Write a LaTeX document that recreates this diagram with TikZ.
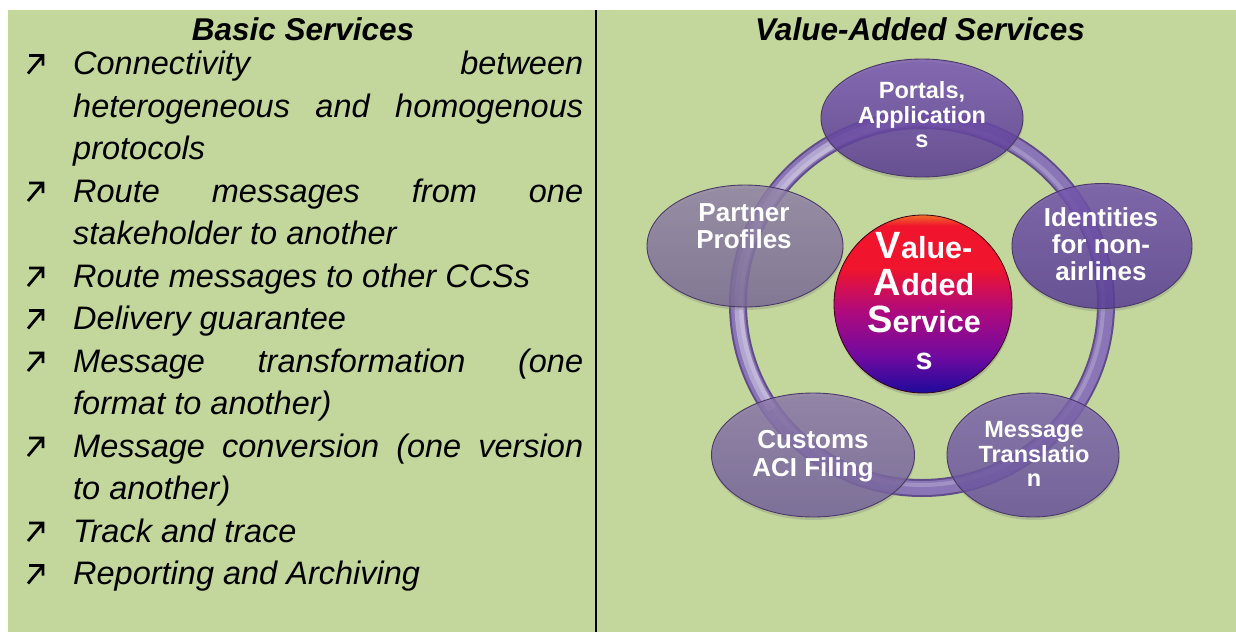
\documentclass[tikz,border=0pt]{standalone}
\usepackage{fontspec}
\setmainfont{Liberation Sans}
\usetikzlibrary{shapes.geometric,shadows}
\definecolor{bgreen}{RGB}{195,214,155}
\definecolor{edgec}{RGB}{74,56,104}
\definecolor{ringedge}{RGB}{96,76,136}
\definecolor{ringbody}{RGB}{138,118,182}
\definecolor{corange}{RGB}{240,110,40}
\definecolor{cred}{RGB}{240,20,45}
\definecolor{cmag}{RGB}{175,10,125}
\definecolor{cpurp}{RGB}{110,10,160}
\definecolor{cblue}{RGB}{30,10,155}
\definecolor{portT}{RGB}{121,84,184}
\definecolor{portB}{RGB}{86,54,146}
\definecolor{partT}{RGB}{145,129,168}
\definecolor{partB}{RGB}{120,104,149}
\definecolor{idenT}{RGB}{114,82,174}
\definecolor{idenB}{RGB}{86,57,149}
\definecolor{custT}{RGB}{139,119,171}
\definecolor{custB}{RGB}{114,94,155}
\definecolor{messT}{RGB}{126,102,174}
\definecolor{messB}{RGB}{101,77,155}
\pgfdeclareverticalshading{vacirc}{100bp}{color(0bp)=(cblue); color(25bp)=(cblue); color(35bp)=(cpurp); color(48bp)=(cmag); color(60bp)=(cred); color(72bp)=(cred); color(75bp)=(corange); color(100bp)=(corange)}
\begin{document}
\begin{tikzpicture}[x=1pt,y=-1pt,
  hdr/.style={font=\fontsize{31.5}{36}\selectfont\bfseries\itshape, inner sep=0pt, anchor=base},
  item/.style={font=\fontsize{32.5}{40}\selectfont\itshape, inner sep=0pt, anchor=base west},
  bul/.style={line width=2.8pt, line join=miter},
  bub/.style={ellipse, inner sep=0pt, draw=edgec, line width=0.9pt, fill opacity=0.8,
    drop shadow={opacity=0.3, shadow xshift=0.5pt, shadow yshift=-3pt}},
  btext/.style={text=white, align=center, inner sep=0pt},
]
\useasboundingbox (0,0) rectangle (1236,632);
\fill[white] (0,0) rectangle (1236,632);
\fill[bgreen] (8,10) rectangle (1236,632);
\coordinate (dtop) at (596,10);
\coordinate (dbot) at (596,632);
\draw[line width=2.4pt] (dtop) -- (dbot);

% headers
\node[hdr] (h1) at (303,40) {Basic Services};
\node[hdr] (h2) at (920,40) {Value-Added Services};

% list
\node[item] (l1) at (73,74.5) {\makebox[510pt][s]{Connectivity between}};
\node[item] (l2) at (73,117) {\makebox[510pt][s]{heterogeneous and homogenous}};
\node[item] (l3) at (73,159.5) {protocols};
\node[item] (l4) at (73,202) {\makebox[510pt][s]{Route messages from one}};
\node[item] (l5) at (73,244.5) {stakeholder to another};
\node[item] (l6) at (73,287) {Route messages to other CCSs};
\node[item] (l7) at (73,329.5) {Delivery guarantee};
\node[item] (l8) at (73,372) {\makebox[510pt][s]{Message transformation (one}};
\node[item] (l9) at (73,414.5) {format to another)};
\node[item] (l10) at (73,457) {\makebox[510pt][s]{Message conversion (one version}};
\node[item] (l11) at (73,499.5) {to another)};
\node[item] (l12) at (73,542) {Track and trace};
\node[item] (l13) at (73,584.5) {Reporting and Archiving};
\foreach \b in {74.5,202,287,329.5,372,457,542,584.5}
  \draw[bul] (29,\b-19) -- (43,\b-19) -- (43,\b-9) (43,\b-19) -- (28,\b-1);

% ring
\coordinate (rc) at (922,304);
\draw[line width=18pt, ringedge] (rc) circle[radius=184];
\draw[line width=14pt, ringbody] (rc) circle[radius=184];
\draw[line width=4pt, white, opacity=0.2] (rc) circle[radius=181];
\draw[line width=9pt, white, opacity=0.35] ([shift={(-215:183)}]rc) arc[start angle=-215, end angle=-95, radius=183];

% centre circle
\node[circle, minimum size=178pt, inner sep=0pt, shading=vacirc, draw=black!70!purple, line width=0.8pt,
  drop shadow={opacity=0.35, shadow xshift=0.5pt, shadow yshift=-3pt}] (vasc) at (923,304) {};
\node[btext, font=\fontsize{30.5}{37}\selectfont\bfseries] (vast) at (924,301)
  {{\fontsize{38}{37}\selectfont V}alue-\\{\fontsize{38}{37}\selectfont A}dded\\{\fontsize{38}{37}\selectfont S}ervice\\s};

% satellite ellipses
\node[bub, minimum width=202pt, minimum height=118pt, top color=portT, bottom color=portB] (port) at (922,118) {};
\node[bub, minimum width=196pt, minimum height=122pt, top color=partT, bottom color=partB] (part) at (745,246) {};
\node[bub, minimum width=180pt, minimum height=125pt, top color=idenT, bottom color=idenB] (iden) at (1102,246) {};
\node[bub, minimum width=203pt, minimum height=124pt, top color=custT, bottom color=custB] (cust) at (813,455) {};
\node[bub, minimum width=172pt, minimum height=124pt, top color=messT, bottom color=messB] (mess) at (1033,455) {};

\node[btext, font=\fontsize{23.5}{24.5}\selectfont\bfseries] (portT) at (922,115) {Portals,\\Application\\s};
\node[btext, font=\fontsize{26}{26.7}\selectfont\bfseries] (partT) at (744,226) {Partner\\Profiles};
\node[btext, font=\fontsize{26}{27}\selectfont\bfseries] (idenT) at (1101,244.5) {Identities\\for non-\\airlines};
\node[btext, font=\fontsize{26}{27.7}\selectfont\bfseries] (custT) at (813,456) {Customs\\ACI Filing};
\node[btext, font=\fontsize{23.5}{24.4}\selectfont\bfseries] (messT) at (1034,454) {Message\\Translatio\\n};
\end{tikzpicture}
\end{document}
